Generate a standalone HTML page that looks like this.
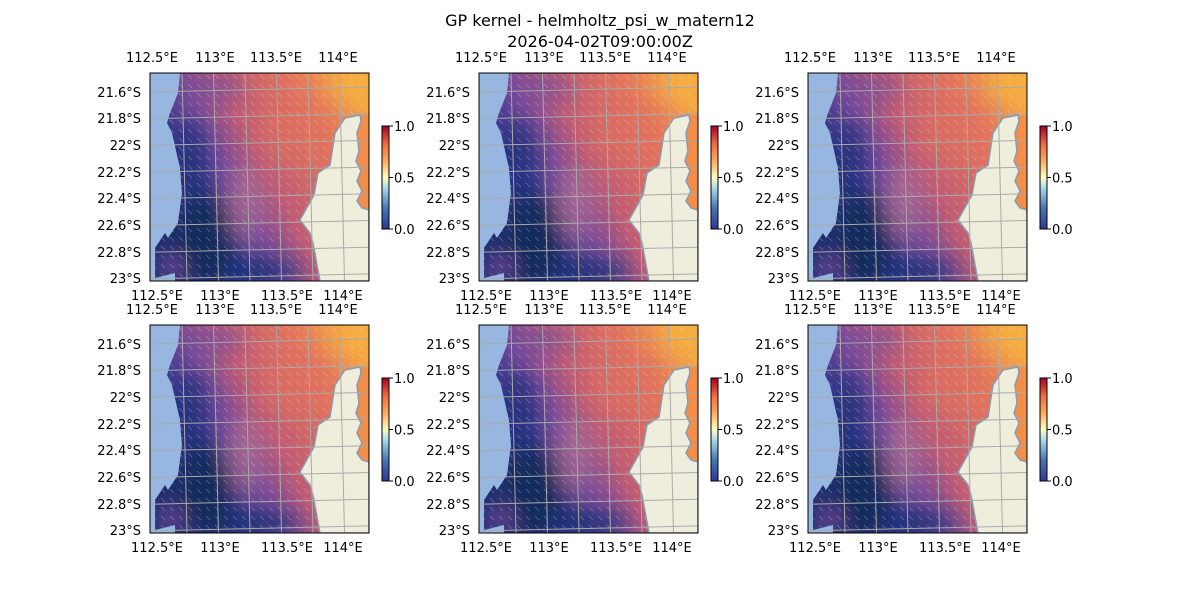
<!DOCTYPE html>
<html><head><meta charset="utf-8"><style>
body{margin:0;background:#fff;font-family:"Liberation Sans","DejaVu Sans",sans-serif;}
#fig{position:relative;width:1200px;height:600px;overflow:hidden;}
svg text{font-family:"DejaVu Sans","Liberation Sans",sans-serif;font-size:13px;fill:#000;}
</style></head><body>
<div id="fig">
<svg id="svg" width="1200" height="600" xmlns="http://www.w3.org/2000/svg">
<defs>
<linearGradient id="cbg" x1="0" y1="1" x2="0" y2="0">
<stop offset="0" stop-color="#313695"/><stop offset="0.2" stop-color="#4575b4"/><stop offset="0.4" stop-color="#abd9e9"/><stop offset="0.5" stop-color="#ffffbf"/><stop offset="0.65" stop-color="#fdae61"/><stop offset="0.82" stop-color="#f46d43"/><stop offset="1" stop-color="#a50026"/>
</linearGradient>
<linearGradient id="fieldg" x1="0" y1="0.7" x2="1" y2="0.2">
<stop offset="0" stop-color="#1f2f6e"/><stop offset="0.22" stop-color="#35388f"/><stop offset="0.38" stop-color="#7a4a98"/><stop offset="0.52" stop-color="#c05c74"/><stop offset="0.78" stop-color="#e2735d"/><stop offset="1" stop-color="#f4a642"/>
</linearGradient>
<pattern id="arrows" width="9" height="9" patternUnits="userSpaceOnUse">
<line x1="2" y1="2" x2="6" y2="6" stroke="#dde4f0" stroke-width="0.7" opacity="0.35"/>
</pattern>
<filter id="blur" filterUnits="userSpaceOnUse" x="-60" y="-60" width="340" height="330"><feGaussianBlur stdDeviation="10"/></filter>
<clipPath id="pclip"><rect x="0" y="0" width="219" height="208"/></clipPath>
<clipPath id="fclip"><polygon points="30,0 219,0 219,208 25,208 25,200 5,205 5,175 15,160 18,165 28,150 32,120 30,95 22,60 17,50 20,40 28,20"/></clipPath>
</defs>
<text x="600" y="26" text-anchor="middle" style="font-size:16px">GP kernel - helmholtz_psi_w_matern12</text>
<text x="600" y="47" text-anchor="middle" style="font-size:16px">2026-04-02T09:00:00Z</text>
</svg>
</div>
<script>
const panelCols=[150,479,808];
const panelRows=[73,325];
const lonTicks=["112.5°E","113°E","113.5°E","114°E"];
const lonTopPos=[2,65,126,188];
const lonBotPos=[7,70,137,193];
const latTicks=["21.6°S","21.8°S","22°S","22.2°S","22.4°S","22.6°S","22.8°S","23°S"];
const latPos=[19,45,72,99,125,152,179,205];
const cbTicks=["0.0","0.5","1.0"];
const cbVals=[0,0.5,1];
const NS="http://www.w3.org/2000/svg";
const svg=document.getElementById('svg');
function el(t,a,p){const e=document.createElementNS(NS,t);for(const k in a)e.setAttribute(k,a[k]);(p||svg).appendChild(e);return e;}
let idx=0;
panelRows.forEach((py,ri)=>{panelCols.forEach((px,ci)=>{
 idx++;
 const g=el('g',{transform:`translate(${px},${py})`});
 
 
 const inner=el('g',{'clip-path':'url(#pclip)'},g);
 el('rect',{x:0,y:0,width:219,height:208,fill:'#97b6e0'},inner);
 const fg=el('g',{'clip-path':'url(#fclip)'},inner);
 const field=el('rect',{x:0,y:0,width:219,height:208,fill:'url(#fieldg)'},fg);
 
 
 const blobs=el('g',{filter:'url(#blur)'},fg);
 el('ellipse',{cx:55,cy:165,rx:30,ry:45,fill:'#0f2a55',opacity:0.85},blobs);
 el('ellipse',{cx:40,cy:85,rx:18,ry:40,fill:'#1e2c78',opacity:0.7},blobs);
 el('ellipse',{cx:95,cy:130,rx:18,ry:38,fill:'#c07a90',opacity:0.55},blobs);
 el('ellipse',{cx:110,cy:198,rx:40,ry:12,fill:'#1a2f70',opacity:0.8},blobs);
 el('ellipse',{cx:20,cy:195,rx:15,ry:12,fill:'#7a4aa0',opacity:0.8},blobs);
 el('ellipse',{cx:205,cy:10,rx:25,ry:15,fill:'#f8b040',opacity:0.8},blobs);
 el('ellipse',{cx:150,cy:60,rx:40,ry:30,fill:'#e0705e',opacity:0.6},blobs);
 el('ellipse',{cx:65,cy:15,rx:30,ry:14,fill:'#6a48a0',opacity:0.6},blobs);
 el('rect',{x:0,y:0,width:219,height:208,fill:'url(#arrows)'},fg);
 el('rect',{x:207,y:42,width:12,height:95,fill:'#f28d4a'},inner);
 const land=el('polygon',{points:'210,42 195,45 185,60 180,92 168,100 164,122 150,147 160,160 163,170 170,208 219,208 219,137 212,135 207,128 212,118 207,108 211,98 206,88 209,78 207,60 211,48',fill:'#efeedc',stroke:'#8a9ab0','stroke-width':1.5},inner);
 
 
 for(let i=0;i<7;i++){const x=32+i*31.5;el('line',{x1:x,y1:0,x2:x+5,y2:208,stroke:'#aaaaaa','stroke-width':1},inner);}
 for(let j=0;j<8;j++){const y=17+j*26.7;el('line',{x1:0,y1:y+2,x2:219,y2:y-3,stroke:'#aaaaaa','stroke-width':1},inner);}
 el('rect',{x:0,y:0,width:219,height:208,fill:'none',stroke:'#000','stroke-width':1},g);
 lonTicks.forEach((t,i)=>{
  const a=el('text',{x:lonTopPos[i],y:-11,'text-anchor':'middle'},g);a.textContent=t;
  
  const b=el('text',{x:lonBotPos[i],y:227,'text-anchor':'middle'},g);b.textContent=t;
  
 });
 latTicks.forEach((t,i)=>{
  const a=el('text',{x:-9,y:latPos[i]+5,'text-anchor':'end'},g);a.textContent=t;
  
 });
 const cx=px+232, cy=py+53, ch=103;
 const cb=el('rect',{x:cx,y:cy,width:7,height:ch,fill:'url(#cbg)',stroke:'#000','stroke-width':1});
 
 
 cbVals.forEach((v,i)=>{
  const y=cy+ch-v*ch;
  el('line',{x1:cx+7,y1:y,x2:cx+11,y2:y,stroke:'#000'});
  const t=el('text',{x:cx+12,y:y+5},svg);t.textContent=cbTicks[i];
  
 });
});});
</script>
</body></html>
